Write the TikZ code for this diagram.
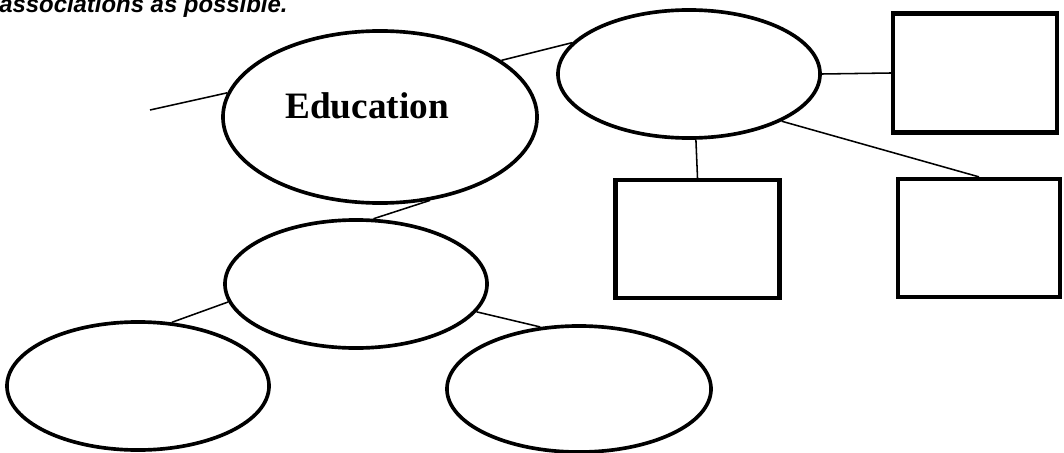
\documentclass[tikz,border=0pt]{standalone}
\usepackage{fontspec}
\setmainfont{Liberation Serif}
\setsansfont{Liberation Sans}
\usetikzlibrary{shapes.geometric}

\begin{document}
\begin{tikzpicture}[x=0.025cm, y=-0.025cm,
    bubble/.style={draw, ellipse, line width=2.6pt, minimum width=6.55cm, minimum height=3.2cm, inner sep=0pt},
    box/.style={draw, line width=3pt, minimum width=4.1cm, minimum height=2.95cm, inner sep=0pt},
    link/.style={line width=1.1pt}]
    \useasboundingbox (0,0) rectangle (1064,453);

    \node[anchor=base west, inner sep=0pt, font=\sffamily\bfseries\itshape\fontsize{17}{19}\selectfont]
    (H) at (-1,13) {associations as possible.};

    \node[bubble, minimum width=7.85cm, minimum height=4.3cm,
    label={[xshift=-0.325cm, yshift=0.27cm, font=\bfseries\fontsize{26.5}{30}\selectfont]center:Education}]
    (E) at (380,117) {};
    \node[bubble] (T) at (689,74) {};
    \node[bubble] (M) at (356,284) {};
    \node[bubble] (L) at (138,386) {};
    \node[bubble, minimum width=6.6cm, minimum height=3.15cm] (R) at (579,389) {};

    \node[box, minimum height=2.975cm] (B1) at (975,73) {};
    \node[box] (B2) at (697.5,239) {};
    \node[box, minimum width=4.05cm] (B3) at (979,238) {};

    \coordinate (A) at (150,110);
    \draw[link] (A) -- (E.171);
    \draw[link] (E.25) -- (T.165);
    \draw[link] (T.east) -- (B1.west);
    \draw[link] (T.-84) -- (B2.north);
    \draw[link] (T.-27) -- (B3.north);
    \draw[link] (E.-59) -- (M.75);
    \draw[link] (M.188) -- (L.62);
    \draw[link] (M.-13) -- (R.122);
\end{tikzpicture}
\end{document}
